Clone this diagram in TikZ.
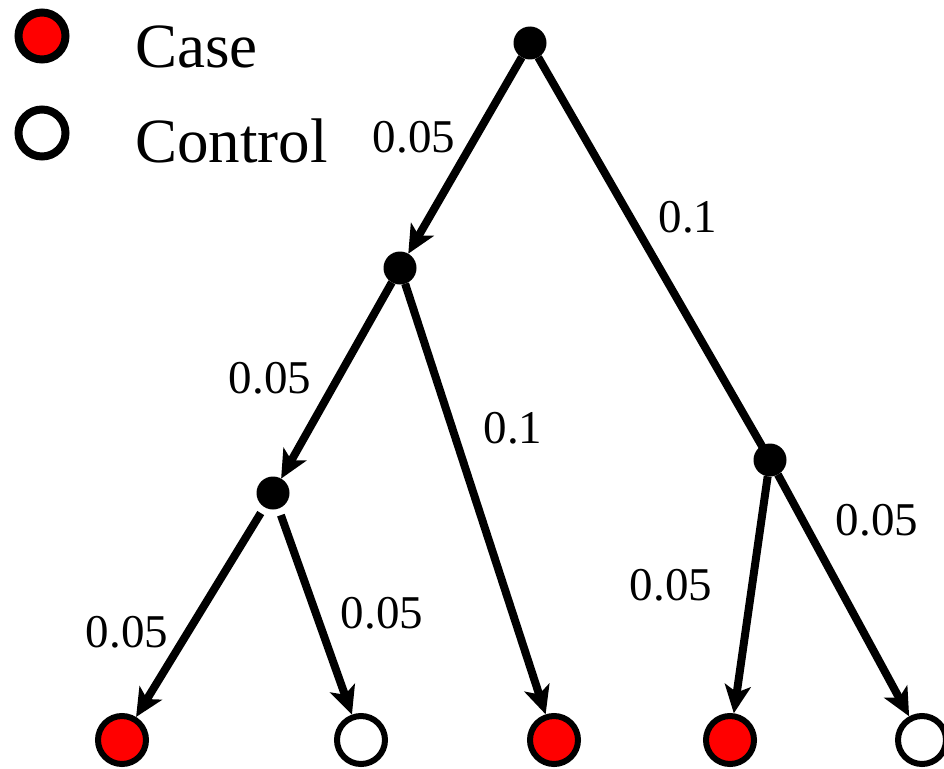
\documentclass[tikz,border=0pt]{standalone}
\usepackage{fontspec}
\setmainfont{Liberation Serif}
\usetikzlibrary{arrows.meta}
\definecolor{casered}{RGB}{255,0,0}
\begin{document}
\begin{tikzpicture}[x=1pt,y=-1pt,
  inner/.style={circle,fill=black,inner sep=0pt,minimum size=33pt,outer sep=0pt},
  caseleaf/.style={circle,draw=black,line width=6pt,fill=casered,inner sep=0pt,minimum size=48pt,outer sep=3pt},
  ctrlleaf/.style={circle,draw=black,line width=6pt,fill=white,inner sep=0pt,minimum size=48pt,outer sep=3pt},
  legcase/.style={circle,draw=black,line width=8pt,fill=casered,inner sep=0pt,minimum size=47pt},
  legctrl/.style={circle,draw=black,line width=8pt,fill=white,inner sep=0pt,minimum size=47pt},
  branch/.style={line width=8pt},
  arrowed/.style={branch,-{Stealth[length=28pt,width=26pt,inset=7pt]}},
  weight/.style={font=\fontsize{47}{56}\selectfont,inner sep=0pt},
  legtext/.style={font=\fontsize{63}{74}\selectfont,inner sep=0pt,anchor=base west}]
\useasboundingbox (0,0) rectangle (944,768);

% legend
\node[legcase] (lcase) at (42,36) {};
\node[legctrl] (lctrl) at (42,133) {};
\node[legtext] (tcase) at (135,67) {Case};
\node[legtext] (tctrl) at (135,162) {Control};

% internal nodes
\node[inner] (r) at (530,43) {};
\node[inner] (a) at (400,268) {};
\node[inner] (b) at (273,493) {};
\node[inner] (c) at (770,460) {};

% leaves
\node[caseleaf] (l1) at (122,740) {};
\node[ctrlleaf] (l2) at (361,740) {};
\node[caseleaf] (l3) at (554,740) {};
\node[caseleaf] (l4) at (730,740) {};
\node[ctrlleaf] (l5) at (922,740) {};

% branches
\draw[arrowed] (r) -- (a);
\draw[branch] (r) -- (c.center);
\draw[arrowed] (a) -- (b);
\draw[arrowed] (a) -- (l3);
\draw[arrowed,shorten <=7pt] (b) -- (l1);
\draw[arrowed,shorten <=7pt] (b) -- (l2);
\draw[arrowed] (c) -- (l4);
\draw[arrowed] (c) -- (l5);

% branch lengths
\node[weight] (w1) at (414,137) {0.05};
\node[weight] (w2) at (688,217) {0.1};
\node[weight] (w3) at (270,378) {0.05};
\node[weight] (w4) at (513,428) {0.1};
\node[weight] (w5) at (127,632) {0.05};
\node[weight] (w6) at (382,613) {0.05};
\node[weight] (w7) at (671,585) {0.05};
\node[weight] (w8) at (877,520) {0.05};
\end{tikzpicture}
\end{document}
